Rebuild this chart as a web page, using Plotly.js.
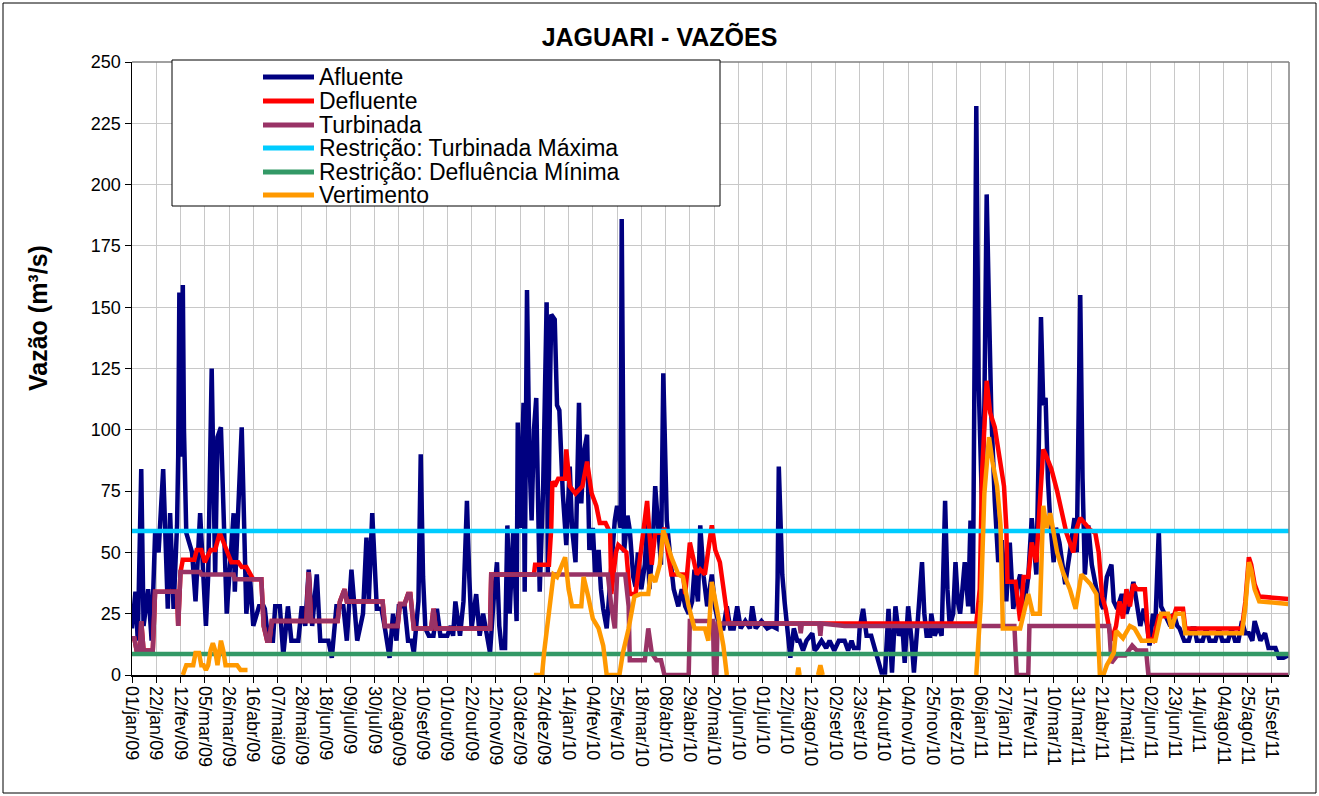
<!DOCTYPE html>
<html><head><meta charset="utf-8">
<script src="https://cdn.plot.ly/plotly-3.0.1.min.js"></script>
<style>html,body{margin:0;padding:0;background:#fff}#chart{width:1319px;height:796px}</style>
</head><body><div id="chart"></div>
<script>
// ---- data (day offsets from 01/jan/2009 and flows in m3/s) ----
const tickLabels = ["01/jan/09","22/jan/09","12/fev/09","05/mar/09","26/mar/09","16/abr/09","07/mai/09","28/mai/09","18/jun/09","09/jul/09","30/jul/09","20/ago/09","10/set/09","01/out/09","22/out/09","12/nov/09","03/dez/09","24/dez/09","14/jan/10","04/fev/10","25/fev/10","18/mar/10","08/abr/10","29/abr/10","20/mai/10","10/jun/10","01/jul/10","22/jul/10","12/ago/10","02/set/10","23/set/10","14/out/10","04/nov/10","25/nov/10","16/dez/10","06/jan/11","27/jan/11","17/fev/11","10/mar/11","31/mar/11","21/abr/11","12/mai/11","02/jun/11","23/jun/11","14/jul/11","04/ago/11","25/ago/11","15/set/11"];

const afluenteDias = [0,3,5,8,10,14,17,20,23,27,31,33,36,39,40,41,43,44,45,47,52,55,59,62,64,66,69,72,74,77,79,81,82,88,89,95,99,102,105,110,114,115,118,122,124,128,131,135,138,144,147,150,153,156,160,163,170,173,177,183,186,190,195,200,203,205,208,212,216,219,223,226,229,231,236,239,242,244,248,250,252,254,257,261,264,267,273,276,278,280,284,287,290,292,294,298,301,304,307,310,313,316,318,320,323,325,327,330,333,334,336,339,340,342,344,346,348,350,353,356,359,360,362,363,366,368,370,373,376,379,381,384,387,389,391,394,396,399,401,404,406,408,411,414,418,420,423,424,426,429,431,434,436,438,441,444,446,448,451,453,456,458,460,462,463,466,469,473,476,479,482,485,487,490,492,495,498,502,505,509,512,515,518,521,524,527,531,535,537,540,545,550,554,558,559,560,562,563,565,567,570,573,576,578,581,584,589,591,593,597,601,604,608,612,617,620,623,625,629,630,633,636,640,643,646,649,652,655,658,661,664,667,669,672,675,677,680,684,686,688,691,692,695,698,701,704,706,708,711,713,715,717,719,721,724,726,728,731,733,736,738,740,742,744,747,750,753,757,760,763,766,769,772,776,779,783,785,787,789,791,793,795,798,800,803,806,808,812,816,818,821,823,825,828,831,835,838,841,844,848,850,853,857,861,864,867,871,873,876,879,881,884,886,889,891,894,896,899,902,905,907,911,915,918,920,922,927,930,933,938,941,944,949,952,955,958,961,964,967,970,972,975,977,981,984,988,990,993,997,1001];
const afluenteVazao = [19,34,14,84,20,35,14,58,50,84,27,66,27,61,89,156,89,159,100,58,50,30,66,34,20,41,125,41,97,101,66,41,25,66,34,101,25,41,20,28,28,27,14,14,28,28,8,28,14,14,28,20,43,20,41,14,14,7,28,28,14,43,14,25,56,30,66,27,27,19,7,25,14,28,28,14,14,9,30,90,40,19,16,16,27,16,16,20,16,30,16,30,71,40,19,33,16,25,16,9,30,46,20,11,11,61,25,58,22,103,60,111,34,157,90,63,100,113,34,77,152,41,120,147,145,110,108,74,53,85,60,46,111,70,90,98,51,60,41,51,35,27,19,40,63,69,60,186,50,65,59,40,36,50,35,45,62,35,55,77,58,45,123,80,63,48,35,28,35,28,25,30,43,30,61,40,28,41,27,19,19,28,19,19,28,19,22,19,28,19,22,19,20,19,40,85,60,41,30,19,7,19,14,14,10,14,17,10,11,14,11,14,10,14,14,10,14,11,11,19,27,16,16,11,6,1,1,27,1,28,16,20,5,28,14,1,20,46,25,16,16,25,16,20,16,71,35,20,25,46,30,25,35,46,28,63,25,232,120,68,110,196,150,107,71,46,55,30,54,27,35,41,27,40,64,41,90,146,110,113,80,63,46,60,54,45,37,50,64,50,155,80,41,61,45,35,30,27,40,45,30,27,33,25,30,38,25,20,27,20,12,25,20,59,28,25,22,20,25,20,19,14,14,19,19,14,14,19,14,14,19,14,14,19,14,14,22,17,17,14,22,18,14,17,11,11,11,7,7,8];

const defluenteDias = [0,2,4,7,8,10,18,20,39,40,42,44,54,56,60,63,68,72,76,82,86,92,95,99,102,105,112,114,117,119,121,151,153,155,178,180,184,186,217,219,230,232,236,239,241,244,259,261,263,310,311,348,349,361,363,364,366,369,375,376,379,384,390,394,398,402,405,410,414,415,419,421,428,431,436,438,446,450,453,459,461,464,467,477,479,483,489,492,496,502,505,509,513,516,518,731,734,736,740,743,747,751,755,757,758,765,769,772,776,779,783,786,789,791,796,801,805,809,815,818,821,825,830,834,837,840,843,848,852,855,858,861,864,867,870,877,880,884,889,902,904,910,912,961,964,967,969,972,976,1001];
const defluenteVazao = [15,15,10,10,22,10,10,34,34,20,42,47,47,51,51,46,51,51,58,50,46,46,44,44,41,39,39,20,14,14,22,22,42,22,22,30,35,30,30,20,20,29,29,33,33,19,19,27,19,19,41,41,45,45,60,79,77,80,80,92,77,74,77,87,74,69,62,62,58,33,50,53,50,33,33,41,71,45,58,58,60,50,41,41,33,54,41,43,41,61,51,46,32,22,21,21,35,82,120,107,101,90,77,60,38,38,22,40,40,54,46,70,92,90,84,75,67,58,50,60,64,62,59,58,50,32,27,14,20,30,23,35,28,37,35,35,15,14,24,24,27,27,19,19,30,48,45,37,32,31];

const turbinadaDias = [0,2,4,7,8,10,18,20,39,40,42,59,60,88,89,112,114,117,119,121,151,153,155,178,180,184,186,217,219,230,232,236,239,241,244,259,261,263,310,311,366,412,415,418,420,427,430,431,444,447,450,454,458,461,482,483,503,504,506,507,578,579,580,595,596,597,617,764,766,776,777,846,848,853,860,866,870,878,880,1001];
const turbinadaVazao = [15,15,10,10,22,10,10,34,34,20,42,42,41,41,39,39,20,14,14,22,22,42,22,22,30,35,30,30,20,20,29,29,33,33,19,19,27,19,19,41,41,41,28,19,41,41,28,6,6,19,9,6,6,0,0,22,22,0,0,21,21,17,21,21,16,21,20,20,0,0,20,20,5,8,8,12,10,10,0,0];

const turbMaximaDias = [0,1002];
const turbMaximaVazao = [58.7,58.7];
const deflMinimaDias = [0,1002];
const deflMinimaVazao = [8.6,8.6];

const vertimentoDias = [44,47,53,55,58,60,62,64,66,68,70,72,74,77,79,81,91,94,100,101,345,348,355,357,359,362,365,368,372,375,378,381,389,391,395,399,404,408,411,422,425,430,435,440,447,449,453,457,460,464,467,473,477,482,487,493,496,499,502,506,509,512,515,516,576,577,578,579,594,596,598,599,731,735,738,742,745,749,752,754,769,772,776,780,786,789,792,795,801,806,812,817,822,830,835,838,841,844,850,852,858,864,868,874,886,891,897,900,904,910,912,961,964,967,969,972,976,1001];
const vertimentoVazao = [0,4,4,9,9,4,4,2,4,10,13,10,4,14,10,4,4,2,2,null,null,0,0,10,17,30,41,40,45,48,35,28,28,40,32,23,19,12,0,0,9,19,32,33,33,41,38,45,59,53,48,41,40,28,19,19,19,14,38,28,20,12,0,null,0,3,0,null,0,4,0,null,0,30,74,97,87,77,61,19,19,25,33,25,25,69,60,66,50,42,35,27,41,37,33,0,0,4,9,18,15,20,19,14,14,25,25,19,25,25,17,17,28,46,43,35,30,29];

// ---- helpers ----
const BASE = Date.UTC(2009,0,1);
function toDate(d){ return new Date(BASE + d*86400000).toISOString().slice(0,10); }
const MONTHS = {jan:0,fev:1,mar:2,abr:3,mai:4,jun:5,jul:6,ago:7,set:8,out:9,nov:10,dez:11};
function labelToDate(s){ const p=s.split('/'); return new Date(Date.UTC(2000+(+p[2]), MONTHS[p[1]], +p[0])).toISOString().slice(0,10); }

const FONT = 'Liberation Sans, Arial, sans-serif';
const C = {afl:'#000080', defl:'#FF0000', turb:'#993366', tmax:'#00CCFF', dmin:'#339966', vert:'#FF9900'};

function tr(name, dias, vals, color){
  return {type:'scatter', mode:'lines', name:name, x:dias.map(toDate), y:vals,
    line:{color:color, width:4.5}, connectgaps:false, showlegend:false, hoverinfo:'x+y+name'};
}
const data = [
  tr('Afluente', afluenteDias, afluenteVazao, C.afl),
  tr('Defluente', defluenteDias, defluenteVazao, C.defl),
  tr('Turbinada', turbinadaDias, turbinadaVazao, C.turb),
  tr('Restrição: Turbinada Máxima', turbMaximaDias, turbMaximaVazao, C.tmax),
  tr('Restrição: Defluência Mínima', deflMinimaDias, deflMinimaVazao, C.dmin),
  tr('Vertimento', vertimentoDias, vertimentoVazao, C.vert)
];

// plot area in px: x 132..1289, y 62..675
const L=132, R=1289, T=62, B=675, W=R-L, H=B-T;
const px = x => (x-L)/W;
const py = y => (B-y)/H;

const legendItems = [
  ['Afluente', C.afl, 77], ['Defluente', C.defl, 101], ['Turbinada', C.turb, 125],
  ['Restrição: Turbinada Máxima', C.tmax, 148], ['Restrição: Defluência Mínima', C.dmin, 172], ['Vertimento', C.vert, 195]
];
const shapes = [
  {type:'rect', xref:'paper', yref:'paper', x0:px(3), x1:px(1316), y0:py(793), y1:py(3), line:{color:'#000', width:1}, fillcolor:'rgba(0,0,0,0)', layer:'below'},
  {type:'line', xref:'paper', yref:'paper', x0:0, x1:1, y0:1, y1:1, line:{color:'#808080', width:1.5}},
  {type:'line', xref:'paper', yref:'paper', x0:1, x1:1, y0:0, y1:1, line:{color:'#808080', width:1.5}},
  {type:'rect', xref:'paper', yref:'paper', x0:px(172), x1:px(720), y0:py(206), y1:py(60), line:{color:'#000', width:1}, fillcolor:'#fff', layer:'above'}
];
const annotations = [
  {xref:'paper', yref:'paper', x:px(38), y:py(318), xanchor:'center', yanchor:'middle', textangle:-90,
   text:'<b>Vazão (m³/s)</b>', showarrow:false, font:{family:FONT, size:25, color:'#000'}}
];
legendItems.forEach(([t,c,y])=>{
  shapes.push({type:'line', xref:'paper', yref:'paper', x0:px(263), x1:px(314), y0:py(y), y1:py(y), line:{color:c, width:5}, layer:'above'});
  annotations.push({xref:'paper', yref:'paper', x:px(317), y:py(y), xanchor:'left', yanchor:'middle', text:t, showarrow:false, font:{family:FONT, size:23, color:'#000'}});
});

const layout = {
  width:1319, height:796,
  margin:{l:L, r:1319-R, t:T, b:796-B, pad:0},
  paper_bgcolor:'#fff', plot_bgcolor:'#fff',
  font:{family:FONT, color:'#000'},
  title:{text:'<b>JAGUARI - VAZÕES</b>', font:{family:FONT, size:25, color:'#000'}, xref:'container', x:0.5, xanchor:'center', yref:'container', y:1-37/796, yanchor:'middle'},
  xaxis:{type:'date', range:[toDate(0), '2011-09-29 18:00'], tickmode:'array',
    tickvals:tickLabels.map(labelToDate), ticktext:tickLabels, tickangle:90,
    tickfont:{family:FONT, size:18, color:'#000'}, ticks:'outside', ticklen:6, tickcolor:'#000',
    showline:true, linecolor:'#000', linewidth:1.5, showgrid:true, gridcolor:'#c8c8c8', gridwidth:1, zeroline:false},
  yaxis:{range:[0,250], tickmode:'linear', tick0:0, dtick:25, tickfont:{family:FONT, size:18, color:'#000'},
    ticks:'outside', ticklen:6, tickcolor:'#000', showline:true, linecolor:'#000', linewidth:1.5,
    showgrid:true, gridcolor:'#c8c8c8', gridwidth:1, zeroline:false},
  shapes:shapes, annotations:annotations, showlegend:false
};
Plotly.newPlot('chart', data, layout, {displayModeBar:false, staticPlot:true});
</script></body></html>
